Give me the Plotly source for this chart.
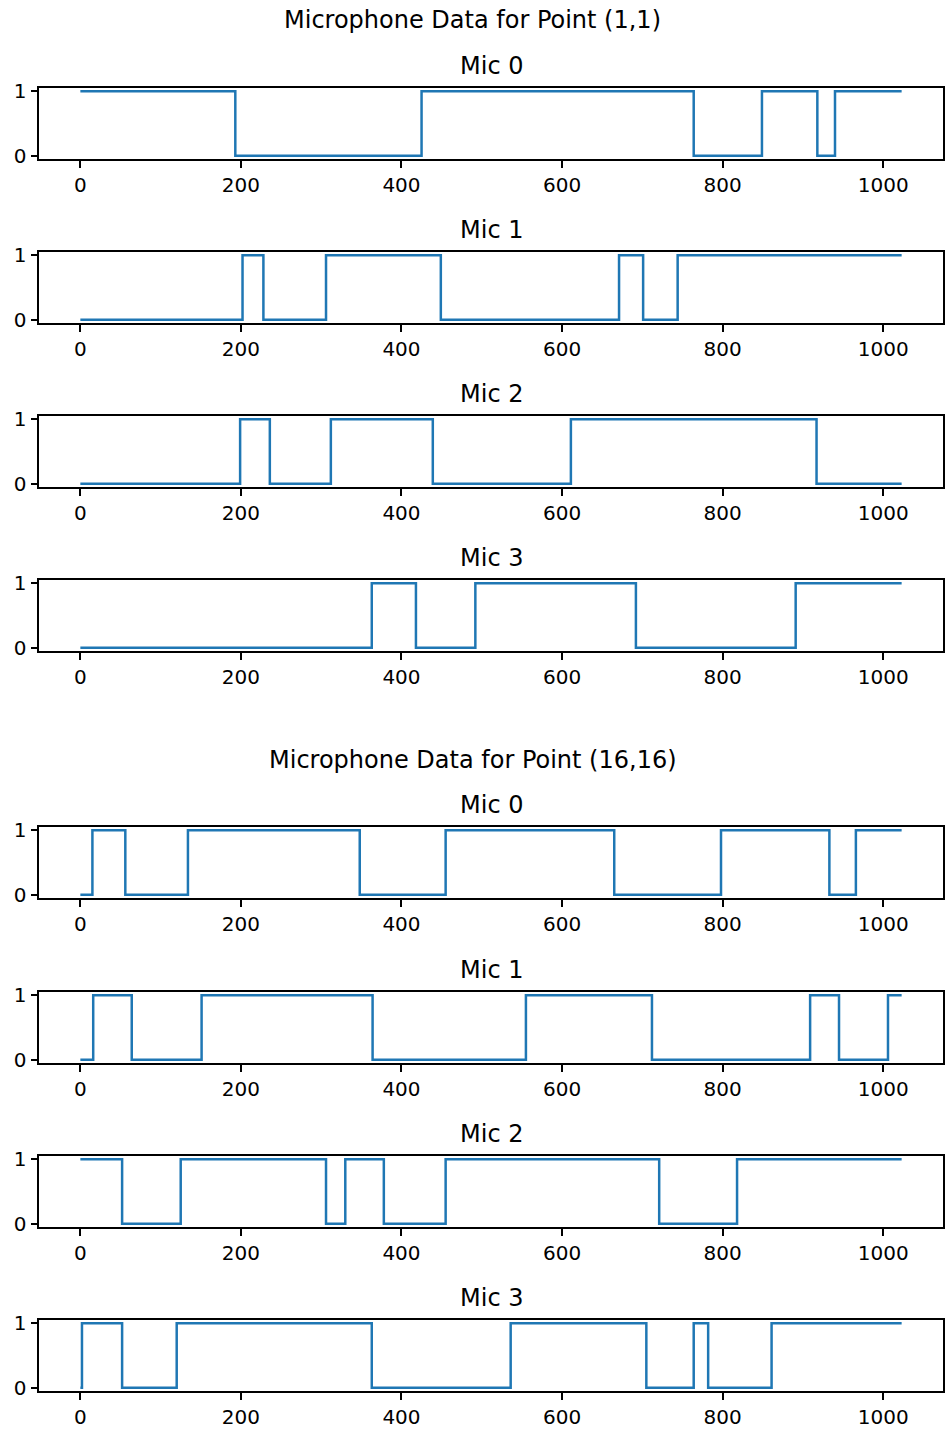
import plotly.graph_objects as go

# ---- data (step change points) ----
group_titles = ["Microphone Data for Point (1,1)", "Microphone Data for Point (16,16)"]
mic_names = ["Mic 0", "Mic 1", "Mic 2", "Mic 3"]

p1_mic0_x = [0, 193, 425, 764, 849, 918, 940, 1023]
p1_mic0_y = [1, 0, 1, 0, 1, 0, 1, 1]
p1_mic1_x = [0, 202, 228, 306, 449, 671, 701, 744, 1023]
p1_mic1_y = [0, 1, 0, 1, 0, 1, 0, 1, 1]
p1_mic2_x = [0, 199, 236, 312, 439, 611, 917, 1023]
p1_mic2_y = [0, 1, 0, 1, 0, 1, 0, 0]
p1_mic3_x = [0, 363, 418, 492, 692, 891, 1023]
p1_mic3_y = [0, 1, 0, 1, 0, 1, 1]

p16_mic0_x = [0, 15, 56, 134, 348, 455, 665, 798, 933, 966, 1023]
p16_mic0_y = [0, 1, 0, 1, 0, 1, 0, 1, 0, 1, 1]
p16_mic1_x = [0, 16, 64, 151, 364, 555, 712, 909, 945, 1006, 1023]
p16_mic1_y = [0, 1, 0, 1, 0, 1, 0, 1, 0, 1, 1]
p16_mic2_x = [0, 52, 125, 306, 330, 378, 455, 721, 818, 1023]
p16_mic2_y = [1, 0, 1, 0, 1, 0, 1, 0, 1, 1]
p16_mic3_x = [0, 2, 52, 120, 363, 536, 705, 764, 782, 861, 1023]
p16_mic3_y = [0, 1, 0, 1, 0, 1, 0, 1, 0, 1, 1]

x_ticks = [0, 200, 400, 600, 800, 1000]
y_ticks = [0, 1]

series = [
    (p1_mic0_x, p1_mic0_y), (p1_mic1_x, p1_mic1_y),
    (p1_mic2_x, p1_mic2_y), (p1_mic3_x, p1_mic3_y),
    (p16_mic0_x, p16_mic0_y), (p16_mic1_x, p16_mic1_y),
    (p16_mic2_x, p16_mic2_y), (p16_mic3_x, p16_mic3_y),
]

# ---- layout geometry (pixels) ----
W, H = 945, 1429
panel_tops = [88, 252, 416, 580, 827, 992, 1156, 1320]
panel_h = 71
left_px, right_px = 39.3, 942.7
group_title_y = [20, 760]
FONT = "DejaVu Sans"
BLUE = "#1f77b4"

fig = go.Figure()
layout = dict(
    width=W, height=H,
    margin=dict(l=0, r=0, t=0, b=0, autoexpand=False),
    paper_bgcolor="white", plot_bgcolor="white",
    showlegend=False,
    font=dict(family=FONT, size=20, color="black"),
)
annotations = []

for i, (xs, ys) in enumerate(series):
    n = "" if i == 0 else str(i + 1)
    fig.add_trace(go.Scatter(
        x=xs, y=ys, mode="lines", line=dict(color=BLUE, width=2.5, shape="hv"),
        xaxis="x" + n, yaxis="y" + n, hoverinfo="skip"))
    top = panel_tops[i]
    bot = top + panel_h
    axis_common = dict(showline=True, mirror=True, linecolor="black", linewidth=1.6,
                       ticks="outside", ticklen=7, tickwidth=1.6, tickcolor="black",
                       showgrid=False, zeroline=False, automargin=False,
                       tickfont=dict(family=FONT, size=20, color="black"))
    layout["xaxis" + n] = dict(
        domain=[left_px / W, right_px / W], anchor="y" + n,
        range=[-51.15, 1074.15], tickmode="array", tickvals=x_ticks,
        **axis_common)
    layout["yaxis" + n] = dict(
        domain=[1 - bot / H, 1 - top / H], anchor="x" + n,
        range=[-0.05, 1.05], tickmode="array", tickvals=y_ticks,
        **axis_common)
    annotations.append(dict(
        text=mic_names[i % 4], xref="paper", yref="paper",
        x=(left_px + right_px) / 2 / W, y=1 - (top - 22) / H,
        xanchor="center", yanchor="middle", showarrow=False,
        font=dict(family=FONT, size=24, color="black")))

for g, t in enumerate(group_titles):
    annotations.append(dict(
        text=t, xref="paper", yref="paper",
        x=0.5, y=1 - group_title_y[g] / H, xanchor="center", yanchor="middle",
        showarrow=False, font=dict(family=FONT, size=24, color="black")))

layout["annotations"] = annotations
fig.update_layout(**layout)
fig.write_html("out.html")
